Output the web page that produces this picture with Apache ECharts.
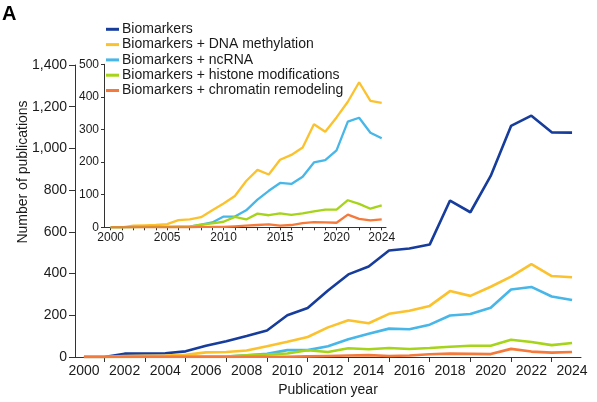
<!DOCTYPE html>
<html>
<head>
<meta charset="utf-8">
<script src="https://cdn.jsdelivr.net/npm/echarts@6/dist/echarts.min.js"></script>
<style>
html,body{margin:0;padding:0;background:#fff;}
#chart{width:597px;height:402px;}
</style>
</head>
<body>
<div id="chart"></div>
<script>
var years = [2000,2001,2002,2003,2004,2005,2006,2007,2008,2009,2010,2011,2012,2013,2014,2015,2016,2017,2018,2019,2020,2021,2022,2023,2024];
var biomarkers     = [0,0,16,17,18,27,54,76,101,127,200,235,319,396,434,511,520,539,750,694,868,1108,1157,1077,1076];
var dnaMethylation = [0,0,5,6,7,10,22,24,31,52,73,96,142,176,162,207,222,245,316,293,337,385,445,388,382];
var ncRNA          = [0,0,1,1,1,1,2,2,8,15,33,33,52,85,112,136,133,155,199,206,236,324,336,290,273];
var histone        = [0,0,0,1,1,1,1,2,8,12,17,32,24,42,37,43,38,43,49,54,54,83,72,57,67];
var chromatin      = [0,0,0,0,0,0,0,0,1,1,1,3,5,7,9,5,7,13,16,15,14,39,26,21,24];

var seriesNames = ['Biomarkers','Biomarkers + DNA methylation','Biomarkers + ncRNA','Biomarkers + histone modifications','Biomarkers + chromatin remodeling'];
var seriesColors = ['#163c9c','#fcc22e','#47b6e8','#a6d418','#f5793a'];

var mainXLabels = [2000,2002,2004,2006,2008,2010,2012,2014,2016,2018,2020,2022,2024];
var mainXTicks = [2001,2003,2005,2007,2009,2011,2013,2015,2017,2019,2021,2023];
var insetXLabels = [2000,2005,2010,2015,2020,2024];

function pairs(vals){ return years.map(function(y,i){ return [y, vals[i]]; }); }
var allData = [biomarkers, dnaMethylation, ncRNA, histone, chromatin];

var font = 'Liberation Sans, Arial, sans-serif';
var txt = '#1a1a1a';
var axisCol = '#333';

var series = [];
allData.forEach(function(d, i){
  series.push({
    name: seriesNames[i], type:'line', xAxisIndex:0, yAxisIndex:0,
    data: pairs(d), showSymbol:false, symbol:'none',
    lineStyle:{width:2.6, color:seriesColors[i]}, itemStyle:{color:seriesColors[i]},
    emphasis:{disabled:true}, animation:false
  });
});
for (var i=1;i<5;i++){
  series.push({
    name: seriesNames[i], type:'line', xAxisIndex:1, yAxisIndex:1,
    data: pairs(allData[i]), showSymbol:false, symbol:'none',
    lineStyle:{width:2.3, color:seriesColors[i]}, itemStyle:{color:seriesColors[i]},
    emphasis:{disabled:true}, animation:false
  });
}

function yr(v){ return String(Math.round(v)); }

var chart = echarts.init(document.getElementById('chart'), null, {renderer:'canvas'});
chart.setOption({
  animation:false,
  backgroundColor:'#fff',
  textStyle:{fontFamily:font},
  grid:[
    {left:75, top:65, width:506, height:292.3},
    {left:104, top:64.3, width:282, height:163}
  ],
  xAxis:[
    {type:'value', gridIndex:0, min:1999.56, max:2024.44,
     splitLine:{show:false},
     axisLine:{lineStyle:{color:axisCol,width:1}},
     axisTick:{show:true, length:5, lineStyle:{color:axisCol}, customValues: mainXTicks},
     axisLabel:{customValues: mainXLabels, formatter: yr, color:txt, fontSize:14, margin:7, fontFamily:font},
     name:'Publication year', nameLocation:'middle', nameGap:26,
     nameTextStyle:{color:txt, fontSize:14, fontFamily:font}
    },
    {type:'value', gridIndex:1, min:1999.41, max:2024.38,
     splitLine:{show:false},
     axisLine:{lineStyle:{color:axisCol,width:1}},
     axisTick:{show:true, length:3, lineStyle:{color:axisCol}, customValues: years},
     axisLabel:{customValues: insetXLabels, formatter: yr, color:txt, fontSize:12, margin:4, fontFamily:font}
    }
  ],
  yAxis:[
    {type:'value', gridIndex:0, min:0, max:1400, interval:200,
     splitLine:{show:false},
     axisLine:{show:true, lineStyle:{color:axisCol,width:1}},
     axisTick:{show:true, length:6, lineStyle:{color:axisCol}},
     axisLabel:{color:txt, fontSize:14, margin:8, fontFamily:font,
       formatter:function(v){ return v.toLocaleString('en-US'); }}
    },
    {type:'value', gridIndex:1, min:0, max:500, interval:100,
     splitLine:{show:false},
     axisLine:{show:true, lineStyle:{color:axisCol,width:1}},
     axisTick:{show:true, length:3, lineStyle:{color:axisCol}},
     axisLabel:{color:txt, fontSize:12, margin:5, fontFamily:font}
    }
  ],
  legend:{
    data: seriesNames, orient:'vertical', left:106, top:21.8, padding:0,
    itemWidth:13, itemHeight:3, itemGap:0.3, icon:'rect',
    textStyle:{color:txt, fontSize:14, lineHeight:15, fontFamily:font, padding:[0,0,0,-2]},
    selectedMode:false
  },
  graphic:[
    {type:'text', left:2, top:4, style:{text:'A', fontSize:20, fontWeight:'bold', fill:'#000', fontFamily:font}},
    {type:'text', x:23, y:172, rotation:Math.PI/2,
     style:{text:'Number of publications', fontSize:14, fill:txt, fontFamily:font, textAlign:'center', textVerticalAlign:'middle'}}
  ],
  series: series
});
</script>
</body>
</html>
